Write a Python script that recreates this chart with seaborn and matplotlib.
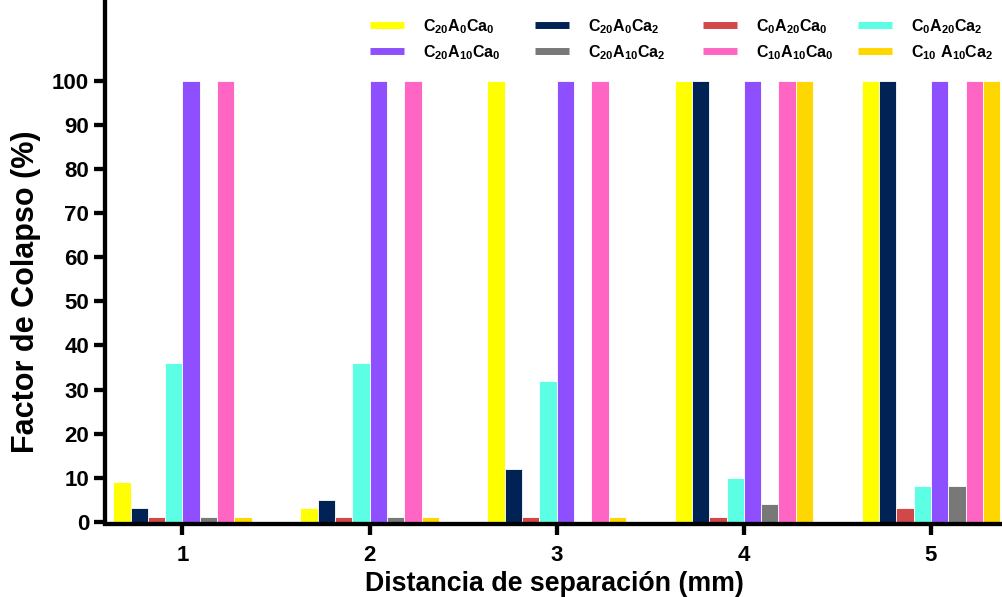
import matplotlib
matplotlib.use("Agg")
import matplotlib.pyplot as plt
from matplotlib.lines import Line2D
import numpy as np
import pandas as pd
import seaborn as sns

# Separation distances (mm) on the x axis
distances = ["1", "2", "3", "4", "5"]

# Mix designs, in plotting order inside each group
mixes = [
    "C20A0Ca0", "C20A0Ca2", "C0A20Ca0", "C0A20Ca2",
    "C20A10Ca0", "C20A10Ca2", "C10A10Ca0", "C10A10Ca2",
]
mix_labels = [
    r"$C_{20}A_{0}Ca_{0}$", r"$C_{20}A_{0}Ca_{2}$", r"$C_{0}A_{20}Ca_{0}$", r"$C_{0}A_{20}Ca_{2}$",
    r"$C_{20}A_{10}Ca_{0}$", r"$C_{20}A_{10}Ca_{2}$", r"$C_{10}A_{10}Ca_{0}$", r"$C_{10}\ A_{10}Ca_{2}$",
]

# Collapse factor (%) per mix, one value per distance
c20a0ca0 = [9, 3, 100, 100, 100]
c20a0ca2 = [3, 5, 12, 100, 100]
c0a20ca0 = [1, 1, 1, 1, 3]
c0a20ca2 = [36, 36, 32, 10, 8]
c20a10ca0 = [100, 100, 100, 100, 100]
c20a10ca2 = [1, 1, 0, 4, 8]
c10a10ca0 = [100, 100, 100, 100, 100]
c10a10ca2 = [1, 1, 1, 100, 100]

series = [c20a0ca0, c20a0ca2, c0a20ca0, c0a20ca2,
          c20a10ca0, c20a10ca2, c10a10ca0, c10a10ca2]

colors = ["#FFFF00", "#002254", "#D24848", "#5CFFE4",
          "#8E50FF", "#787878", "#FF66C4", "#FFD700"]

rows = []
for mix, vals in zip(mixes, series):
    for d, v in zip(distances, vals):
        rows.append({"dist": d, "mix": mix, "value": v})
df = pd.DataFrame(rows)

sns.set_style("ticks")
plt.rcParams["font.family"] = ["Liberation Sans", "DejaVu Sans"]
plt.rcParams["text.color"] = "black"
plt.rcParams["axes.labelcolor"] = "black"
plt.rcParams["xtick.color"] = "black"
plt.rcParams["ytick.color"] = "black"
plt.rcParams["mathtext.fontset"] = "custom"
plt.rcParams["mathtext.rm"] = "Liberation Sans:bold"
plt.rcParams["mathtext.it"] = "Liberation Sans:bold"
plt.rcParams["mathtext.bf"] = "Liberation Sans:bold"
plt.rcParams["mathtext.default"] = "rm"

W, H = 1003, 597
fig = plt.figure(figsize=(W / 100, H / 100), dpi=100)
ax = fig.add_axes([105 / W, (H - 521.7) / H, (W - 105) / W, 521.7 / H])

sns.barplot(data=df, x="dist", y="value", hue="mix", order=distances,
            hue_order=mixes, palette=colors, width=0.74, gap=0,
            edgecolor="white", linewidth=0.6, saturation=1,
            errorbar=None, legend=False, ax=ax)

ax.set_ylim(0, 118.4)
ax.set_xlim(-0.414, 4.385)
ax.set_yticks(np.arange(0, 101, 10))
ax.set_yticklabels([str(v) for v in range(0, 101, 10)])

for side in ["top", "right"]:
    ax.spines[side].set_visible(False)
for side in ["left", "bottom"]:
    ax.spines[side].set_linewidth(3.1)
    ax.spines[side].set_color("black")
ax.spines["bottom"].set_position(("outward", 1.5))

ax.tick_params(axis="both", which="major", direction="out", length=8,
               width=3.1, color="black", labelsize=16)
ax.tick_params(axis="y", pad=3.5)
ax.tick_params(axis="x", pad=7)
for lab in ax.get_xticklabels() + ax.get_yticklabels():
    lab.set_fontweight("bold")

ax.set_xlabel("Distancia de separación (mm)", fontsize=19.3, fontweight="bold")
ax.set_ylabel("Factor de Colapso (%)", fontsize=22, fontweight="bold")
ax.xaxis.set_label_coords(0.501, -0.1185)
ax.xaxis.label.set_va("center")
ax.yaxis.set_label_coords(-0.088, 0.44)
ax.yaxis.label.set_va("center")

# Legend: four columns of two mixes each, thick line swatches
col_x = [370, 535, 703, 858]
for k, x0 in enumerate(col_x):
    idx = [k, k + 4]
    hs = [Line2D([0], [0], color=colors[i], lw=5, solid_capstyle="butt") for i in idx]
    fig.legend(hs, [mix_labels[i] for i in idx], loc="upper left",
               bbox_to_anchor=(x0 / W, 1 - 17 / H), bbox_transform=fig.transFigure,
               frameon=False, fontsize=11.5, handlelength=2.1,
               handletextpad=1.2, labelspacing=0.45, borderpad=0,
               borderaxespad=0)

fig.savefig("out.png", dpi=100)
